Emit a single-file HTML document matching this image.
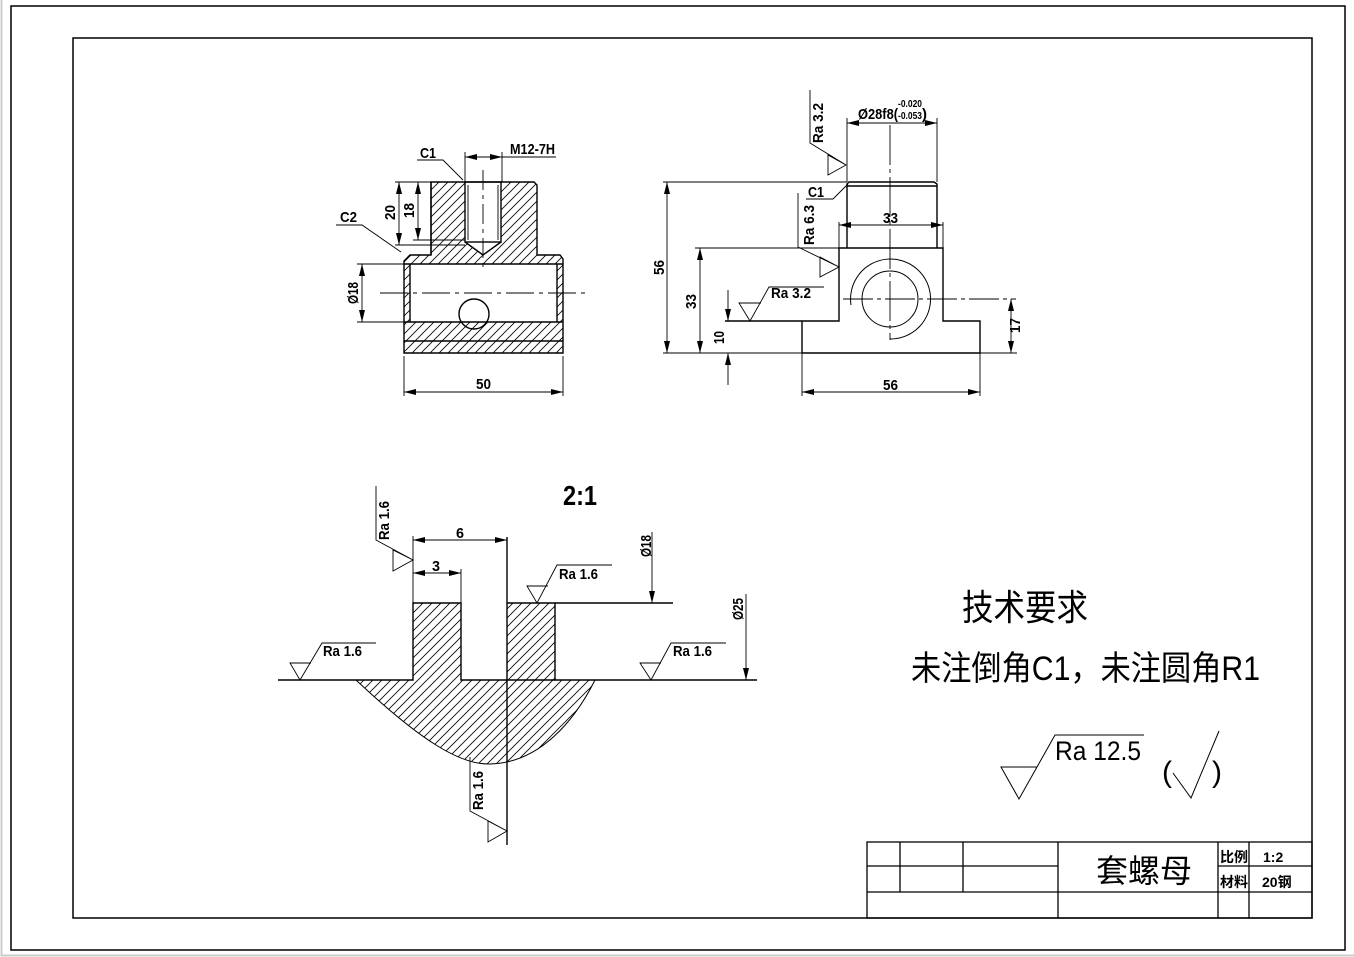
<!DOCTYPE html>
<html><head><meta charset="utf-8">
<style>
html,body{margin:0;padding:0;background:#fff;}
svg{display:block;}
text{font-family:"Liberation Sans","Noto Sans CJK SC",sans-serif;fill:#000;}
.t{font-size:15px;font-weight:bold;}
</style></head><body>
<svg width="1354" height="957" viewBox="0 0 1354 957" xmlns="http://www.w3.org/2000/svg">
<defs>
<pattern id="h" patternUnits="userSpaceOnUse" width="9" height="9">
<path d="M-1,10 L10,-1 M-2,2 L2,-2 M7,11 L11,7" stroke="#000" stroke-width="0.8"/>
</pattern>
<marker id="a" viewBox="0 0 12 6" refX="12" refY="3" markerWidth="12" markerHeight="6" orient="auto-start-reverse" markerUnits="userSpaceOnUse"><path d="M0,0 L12,3 L0,6 Z" fill="#000"/></marker>
</defs>
<rect x="0" y="0" width="1354" height="957" fill="#fff"/>
<path d="M1.5,0 V955.5 H1354" stroke="#ccc" stroke-width="2" fill="none"/>
<rect x="11" y="6" width="1334" height="944" fill="none" stroke="#000" stroke-width="1.5"/>
<rect x="73" y="38" width="1239" height="880" fill="none" stroke="#000" stroke-width="1.5"/>

<!-- Title block -->
<g stroke="#000" stroke-width="1.3" fill="none">
<rect x="867" y="842" width="445" height="76"/>
<line x1="867" y1="866" x2="1058" y2="866"/>
<line x1="867" y1="892" x2="1312" y2="892"/>
<line x1="1218" y1="866" x2="1312" y2="866"/>
<line x1="900" y1="842" x2="900" y2="892"/>
<line x1="963" y1="842" x2="963" y2="892"/>
<line x1="1058" y1="842" x2="1058" y2="918"/>
<line x1="1218" y1="842" x2="1218" y2="918"/>
<line x1="1249" y1="842" x2="1249" y2="918"/>
</g>
<text x="1096" y="882" font-size="32" font-family="Noto Sans CJK SC,sans-serif">套螺母</text>
<text x="1220" y="862" font-size="14" font-weight="bold">比例</text>
<text x="1220" y="887" font-size="14" font-weight="bold">材料</text>
<text x="1263" y="862" font-size="14" font-weight="bold">1:2</text>
<text x="1262" y="887" font-size="14" font-weight="bold">20钢</text>

<!-- ============ Front section view ============ -->
<path fill="url(#h)" fill-rule="evenodd" d="M431,182 L534,182 L537,185 L537,255 L560,255 L563,259 L563,353 L404,353 L404,261 L410,255 L431,255 Z M410,264 L557,264 L557,322 L410,322 Z M465,182 L501,182 L501,242 L483,255 L465,242 Z"/>
<g stroke="#000" stroke-width="1.4" fill="none">
<path d="M431,182 L534,182 L537,185 L537,255 L560,255 L563,259 L563,353 L404,353 L404,261 L410,255 L431,255 Z"/>
<line x1="431" y1="182" x2="431" y2="255"/>
<line x1="404" y1="264" x2="563" y2="264"/>
<line x1="404" y1="322" x2="563" y2="322"/>
<line x1="410" y1="264" x2="410" y2="322"/>
<line x1="557" y1="264" x2="557" y2="322"/>
<line x1="404" y1="341" x2="563" y2="341"/>
<rect x="465" y="182" width="36" height="60"/>
<path d="M465,242 L483,255 L501,242"/>
<circle cx="474" cy="314" r="15"/>
</g>
<g stroke="#000" stroke-width="0.9" fill="none">
<line x1="468" y1="185" x2="468" y2="240"/>
<line x1="498" y1="185" x2="498" y2="240"/>
<line x1="380" y1="293" x2="590" y2="293" stroke-dasharray="28,5,4,5"/>
<line x1="483" y1="170" x2="483" y2="272" stroke-dasharray="20,5,4,5"/>
<!-- dims -->
<line x1="395" y1="182" x2="431" y2="182"/>
<line x1="395" y1="245" x2="465" y2="245"/>
<line x1="413" y1="240" x2="465" y2="240"/>
<line x1="399" y1="182" x2="399" y2="245" marker-start="url(#a)" marker-end="url(#a)"/>
<line x1="418" y1="182" x2="418" y2="240" marker-start="url(#a)" marker-end="url(#a)"/>
<line x1="357" y1="264" x2="404" y2="264"/>
<line x1="357" y1="322" x2="404" y2="322"/>
<line x1="362" y1="264" x2="362" y2="322" marker-start="url(#a)" marker-end="url(#a)"/>
<line x1="404" y1="356" x2="404" y2="396"/>
<line x1="563" y1="356" x2="563" y2="396"/>
<line x1="404" y1="392" x2="563" y2="392" marker-start="url(#a)" marker-end="url(#a)"/>
<line x1="465" y1="152" x2="465" y2="182"/>
<line x1="502" y1="152" x2="502" y2="182"/>
<line x1="465" y1="157" x2="502" y2="157" marker-start="url(#a)" marker-end="url(#a)"/>
<line x1="502" y1="157" x2="556" y2="157"/>
<polyline points="417,160 443,160 463,180"/>
<polyline points="336,225 362,225 401,252"/>
</g>
<text class="t" x="420" y="158" textLength="16" lengthAdjust="spacingAndGlyphs">C1</text>
<text class="t" x="510" y="154" textLength="45" lengthAdjust="spacingAndGlyphs">M12-7H</text>
<text class="t" x="340" y="222" textLength="17" lengthAdjust="spacingAndGlyphs">C2</text>
<text class="t" x="476" y="389" textLength="15" lengthAdjust="spacingAndGlyphs">50</text>
<text class="t" transform="translate(395,220) rotate(-90)" textLength="15" lengthAdjust="spacingAndGlyphs">20</text>
<text class="t" transform="translate(414,218) rotate(-90)" textLength="15" lengthAdjust="spacingAndGlyphs">18</text>
<text class="t" transform="translate(358,304) rotate(-90)" textLength="22" lengthAdjust="spacingAndGlyphs">Ø18</text>

<!-- ============ Side view ============ -->
<g stroke="#000" stroke-width="1.4" fill="none">
<path d="M802,353 L980,353 L980,321 L943,321 L943,248 L839,248 L839,321 L725,321"/>
<line x1="802" y1="321" x2="802" y2="353"/>
<path d="M847,248 L847,184 L849,182 L934,182 L937,184 L937,248"/>
<line x1="847" y1="186" x2="937" y2="186"/>
<circle cx="890" cy="299" r="28" stroke-width="1"/>
<path d="M851,305 A40,40 0 1 1 890,339" stroke-width="1"/>
</g>
<g stroke="#000" stroke-width="0.9" fill="none">
<line x1="843" y1="299" x2="1016" y2="299" stroke-dasharray="30,4,4,4"/>
<line x1="890" y1="125" x2="890" y2="340" stroke-dasharray="40,4,4,4"/>
<line x1="663" y1="182" x2="847" y2="182"/>
<line x1="663" y1="353" x2="1017" y2="353"/>
<line x1="667" y1="182" x2="667" y2="353" marker-start="url(#a)" marker-end="url(#a)"/>
<line x1="695" y1="248" x2="839" y2="248"/>
<line x1="700" y1="248" x2="700" y2="353" marker-start="url(#a)" marker-end="url(#a)"/>
<line x1="728" y1="290" x2="728" y2="321" marker-end="url(#a)"/>
<line x1="728" y1="385" x2="728" y2="353" marker-end="url(#a)"/>
<line x1="1011" y1="299" x2="1011" y2="353" marker-start="url(#a)" marker-end="url(#a)"/>
<line x1="802" y1="353" x2="802" y2="396"/>
<line x1="980" y1="353" x2="980" y2="396"/>
<line x1="802" y1="392" x2="980" y2="392" marker-start="url(#a)" marker-end="url(#a)"/>
<line x1="839" y1="222" x2="839" y2="248"/>
<line x1="943" y1="222" x2="943" y2="248"/>
<line x1="839" y1="225" x2="943" y2="225" marker-start="url(#a)" marker-end="url(#a)"/>
<line x1="847" y1="118" x2="847" y2="182"/>
<line x1="937" y1="118" x2="937" y2="182"/>
<line x1="847" y1="123" x2="937" y2="123" marker-start="url(#a)" marker-end="url(#a)"/>
<polyline points="806,199 833,199 848,184"/>
<!-- Ra 3.2 vertical -->
<polyline points="810,90 810,143 846,165 828,175 828,155 846,165"/>
<!-- Ra 6.3 vertical -->
<polyline points="798,193 798,247 839,267 820,277 820,257 839,267"/>
<!-- Ra 3.2 horizontal -->
<polyline points="824,287 769,287 750,321 739,303 761,303"/>
</g>
<text class="t" x="808" y="197" textLength="16" lengthAdjust="spacingAndGlyphs">C1</text>
<text class="t" x="883" y="223" textLength="15" lengthAdjust="spacingAndGlyphs">33</text>
<text class="t" x="883" y="390" textLength="15" lengthAdjust="spacingAndGlyphs">56</text>
<text class="t" x="771" y="298" textLength="40" lengthAdjust="spacingAndGlyphs">Ra 3.2</text>
<text class="t" x="858" y="119" textLength="40" lengthAdjust="spacingAndGlyphs">Ø28f8(</text>
<text x="898" y="107" font-size="10" font-weight="bold" textLength="24" lengthAdjust="spacingAndGlyphs">-0.020</text>
<text x="898" y="119" font-size="10" font-weight="bold" textLength="24" lengthAdjust="spacingAndGlyphs">-0.053</text>
<text class="t" x="922" y="119">)</text>
<text class="t" transform="translate(664,275) rotate(-90)" textLength="15" lengthAdjust="spacingAndGlyphs">56</text>
<text class="t" transform="translate(696,309) rotate(-90)" textLength="15" lengthAdjust="spacingAndGlyphs">33</text>
<text class="t" transform="translate(724,344) rotate(-90)" textLength="13" lengthAdjust="spacingAndGlyphs">10</text>
<text class="t" transform="translate(1020,333) rotate(-90)" textLength="15" lengthAdjust="spacingAndGlyphs">17</text>
<text class="t" transform="translate(823,143) rotate(-90)" textLength="40" lengthAdjust="spacingAndGlyphs">Ra 3.2</text>
<text class="t" transform="translate(814,245) rotate(-90)" textLength="40" lengthAdjust="spacingAndGlyphs">Ra 6.3</text>

<!-- ============ Detail 2:1 ============ -->
<text x="563" y="505" font-size="28" font-weight="bold" textLength="34" lengthAdjust="spacingAndGlyphs">2:1</text>
<path fill="url(#h)" d="M413,603 L461,603 L461,680 L413,680 Z M507,603 L555,603 L555,680 L507,680 Z M356,680 C420,740 460,765 490,764 C540,763 575,720 595,680 Z"/>
<g stroke="#000" stroke-width="1.4" fill="none">
<path d="M278,680 L413,680 L413,603 L461,603 L461,680 L555,680"/>
<path d="M507,603 L555,603 L555,680 L757,680"/>
<line x1="555" y1="603" x2="673" y2="603"/>
<path d="M356,680 C420,740 460,765 490,764 C540,763 575,720 595,680" stroke-width="1"/>
<line x1="507" y1="537" x2="507" y2="845"/>
</g>
<g stroke="#000" stroke-width="0.9" fill="none">
<line x1="413" y1="536" x2="413" y2="603"/>
<line x1="413" y1="540" x2="507" y2="540" marker-start="url(#a)" marker-end="url(#a)"/>
<line x1="461" y1="569" x2="461" y2="603"/>
<line x1="413" y1="573" x2="461" y2="573" marker-start="url(#a)" marker-end="url(#a)"/>
<line x1="652" y1="532" x2="652" y2="603" marker-end="url(#a)"/>
<line x1="746" y1="594" x2="746" y2="680" marker-end="url(#a)"/>
<polyline points="376,486 376,540 413,560 393,571 393,550 413,560"/>
<polyline points="612,565 557,565 537,603 527,586 548,586"/>
<polyline points="376,643 322,643 300,680 290,663 311,663"/>
<polyline points="726,643 671,643 651,680 640,663 661,663"/>
<polyline points="470,757 470,811 507,831 488,842 488,821 507,831"/>
</g>
<text class="t" x="456" y="538" textLength="8" lengthAdjust="spacingAndGlyphs">6</text>
<text class="t" x="432" y="571" textLength="8" lengthAdjust="spacingAndGlyphs">3</text>
<text class="t" x="559" y="579" textLength="39" lengthAdjust="spacingAndGlyphs">Ra 1.6</text>
<text class="t" x="323" y="656" textLength="39" lengthAdjust="spacingAndGlyphs">Ra 1.6</text>
<text class="t" x="673" y="656" textLength="39" lengthAdjust="spacingAndGlyphs">Ra 1.6</text>
<text class="t" transform="translate(389,540) rotate(-90)" textLength="39" lengthAdjust="spacingAndGlyphs">Ra 1.6</text>
<text class="t" transform="translate(483,810) rotate(-90)" textLength="39" lengthAdjust="spacingAndGlyphs">Ra 1.6</text>
<text class="t" transform="translate(651,557) rotate(-90)" textLength="22" lengthAdjust="spacingAndGlyphs">Ø18</text>
<text class="t" transform="translate(743,620) rotate(-90)" textLength="22" lengthAdjust="spacingAndGlyphs">Ø25</text>

<!-- Technical requirements -->
<text x="962" y="620" font-size="36" font-family="Noto Serif CJK SC,serif" textLength="126" lengthAdjust="spacingAndGlyphs">技术要求</text>
<text x="911" y="680" font-size="34" font-family="Liberation Serif,Noto Serif CJK SC,serif" textLength="349" lengthAdjust="spacingAndGlyphs">未注倒角C1，未注圆角R1</text>

<g stroke="#000" stroke-width="1" fill="none">
<polyline points="1144,735 1055,735 1019,799 1001,767 1037,767"/>
<polyline points="1173,773 1191,798 1219,731"/>
</g>
<text x="1055" y="760" font-size="27" textLength="86" lengthAdjust="spacingAndGlyphs">Ra 12.5</text>
<text x="1162" y="782" font-size="30">(</text>
<text x="1212" y="782" font-size="30">)</text>
</svg>
</body></html>
